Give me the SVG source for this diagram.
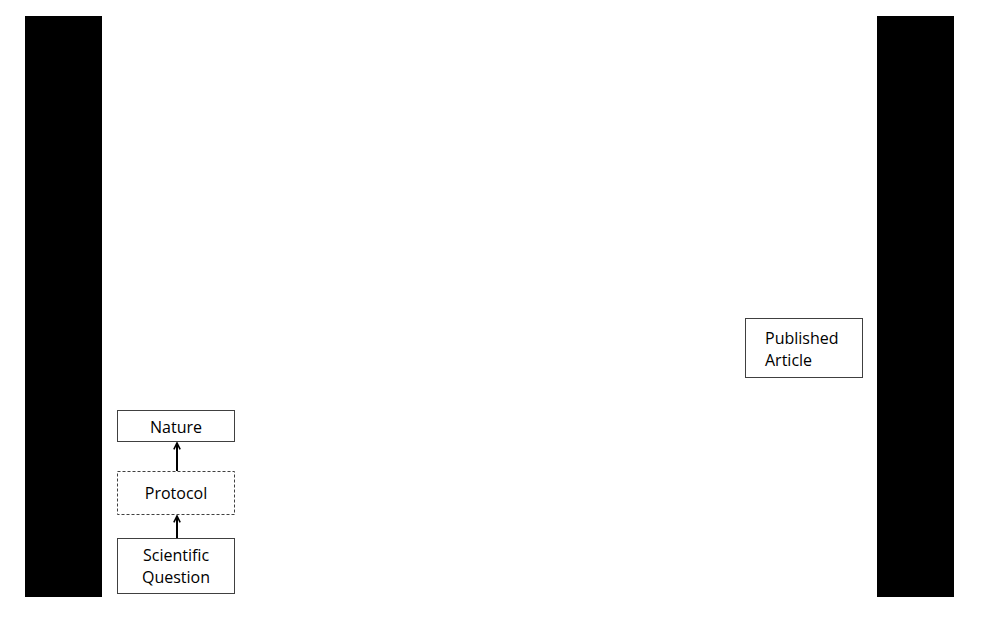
<svg xmlns="http://www.w3.org/2000/svg" width="993" height="622" viewBox="0 0 993 622">
  <defs>
    <marker id="arrow" viewBox="0 0 10 10" refX="9" refY="5" markerWidth="9" markerHeight="9" orient="auto" markerUnits="userSpaceOnUse">
      <path d="M2,1.5 L9,5 L2,8.5" fill="none" stroke="#000" stroke-width="1.8"/>
    </marker>
    <style>
      .box { fill: #fff; stroke: #404040; stroke-width: 1; }
      .dashed { stroke-dasharray: 3 2; }
      .label { font-family: "Open Sans", "Liberation Sans", sans-serif; font-size: 16px; fill: #000; }
      .mid { text-anchor: middle; }
      .link { stroke: #000; stroke-width: 2; fill: none; }
    </style>
  </defs>
  <rect width="993" height="622" fill="#fff"/>
  <!-- side bars -->
  <rect x="25" y="16" width="77" height="581" fill="#000"/>
  <rect x="877" y="16" width="77" height="581" fill="#000"/>

  <g id="nature">
    <rect class="box" x="117.5" y="410.5" width="117" height="31"/>
    <text class="label mid" x="176" y="433">Nature</text>
  </g>
  <g id="protocol">
    <rect class="box dashed" x="117.5" y="471.5" width="117" height="43"/>
    <text class="label mid" x="176" y="499">Protocol</text>
  </g>
  <g id="question">
    <rect class="box" x="117.5" y="538.5" width="117" height="55"/>
    <text class="label mid" x="176" y="561">Scientific</text>
    <text class="label mid" x="176" y="583">Question</text>
  </g>
  <g id="article">
    <rect class="box" x="745.5" y="318.5" width="117" height="59"/>
    <text class="label" x="765" y="344">Published</text>
    <text class="label" x="765" y="366">Article</text>
  </g>

  <g id="connectors">
    <line class="link" x1="177" y1="471" x2="177" y2="443" marker-end="url(#arrow)"/>
    <line class="link" x1="177" y1="538" x2="177" y2="516" marker-end="url(#arrow)"/>
  </g>
</svg>
